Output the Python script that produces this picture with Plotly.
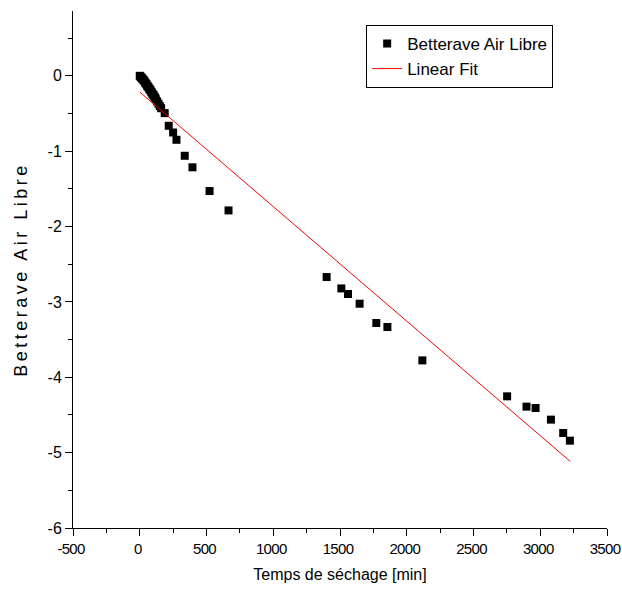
import plotly.graph_objects as go

# Drying time [min] and ln(MR) values
time_min = [0, 5, 10, 15, 20, 25, 30, 35, 40, 45, 50, 55, 60, 65, 70, 75, 80,
            85, 90, 95, 100, 105, 110, 115, 120, 130, 140, 150, 160,
            187, 217, 250, 275, 337, 395, 523, 665,
            1400, 1510, 1560, 1647, 1772, 1855, 2117,
            2752, 2897, 2965, 3080, 3172, 3222]
ln_mr = [0.0, -0.01, -0.02, -0.03, -0.04, -0.05, -0.06, -0.07, -0.09, -0.10,
         -0.11, -0.13, -0.14, -0.15, -0.17, -0.18, -0.19, -0.21, -0.22, -0.24,
         -0.25, -0.26, -0.28, -0.29, -0.31, -0.34, -0.37, -0.40, -0.43,
         -0.495, -0.663, -0.752, -0.849, -1.061, -1.214, -1.529, -1.786,
         -2.670, -2.821, -2.895, -3.024, -3.280, -3.333, -3.776,
         -4.253, -4.390, -4.408, -4.562, -4.739, -4.841]

# Linear fit end points
fit_x = [0, 3225]
fit_y = [-0.215, -5.117]

# Tick labels
x_tickvals = [-500, 0, 500, 1000, 1500, 2000, 2500, 3000, 3500]
x_ticktext = ["-500", "0", "500", "1000", "1500", "2000", "2500", "3000", "3500"]
y_tickvals = [-6, -5, -4, -3, -2, -1, 0]
y_ticktext = ["-6", "-5", "-4", "-3", "-2", "-1", "0"]

FONT = "Liberation Sans Narrow, Arial Narrow, Liberation Sans, Arial, sans-serif"

fig = go.Figure()
fig.add_trace(go.Scatter(
    x=time_min, y=ln_mr, mode="markers", name="Betterave Air Libre",
    marker=dict(symbol="square", size=8, color="black", line=dict(width=0)),
))
fig.add_trace(go.Scatter(
    x=fit_x, y=fit_y, mode="lines", name="Linear Fit",
    line=dict(color="red", width=1),
))

x_ticktext_styled = ['<span style="letter-spacing:-0.7px">%s</span>' % t for t in x_ticktext]

fig.update_layout(
    width=622, height=608,
    margin=dict(l=73, r=15, t=11, b=80),
    paper_bgcolor="white", plot_bgcolor="white",
    font=dict(family=FONT, size=16, color="black"),
    showlegend=True,
    legend=dict(
        x=0.549, y=0.973, xanchor="left", yanchor="top",
        bordercolor="black", borderwidth=1, bgcolor="white",
        font=dict(family=FONT, size=17, color="black"),
        tracegroupgap=0, itemwidth=30,
    ),
    xaxis=dict(
        range=[-500, 3500], tickvals=x_tickvals, ticktext=x_ticktext_styled,
        showline=True, linecolor="black", linewidth=1,
        ticks="outside", ticklen=7, tickwidth=1, tickcolor="black",
        minor=dict(dtick=250, tick0=0, ticks="outside", ticklen=4, tickcolor="black"),
        showgrid=False, zeroline=False, automargin=False,
        ticklabeloverflow="allow", ticklabelshift=-2,
        title=dict(text="Temps de séchage [min]", font=dict(size=16), standoff=12),
        tickfont=dict(size=15),
    ),
    yaxis=dict(
        range=[-6, 0.86], tickvals=y_tickvals, ticktext=y_ticktext,
        showline=True, linecolor="black", linewidth=1,
        ticks="outside", ticklen=7, tickwidth=1, tickcolor="black",
        minor=dict(dtick=0.5, tick0=0, ticks="outside", ticklen=4, tickcolor="black"),
        showgrid=False, zeroline=False, automargin=False,
        title=dict(text='<span style="letter-spacing:3.5px">Betterave Air Libre</span>',
                   font=dict(size=18), standoff=15),
        tickfont=dict(size=16),
    ),
)

fig.write_html(
    "out.html",
    config={"displayModeBar": False},
    post_script="document.body.style.margin='0';document.body.style.overflow='hidden';",
)
